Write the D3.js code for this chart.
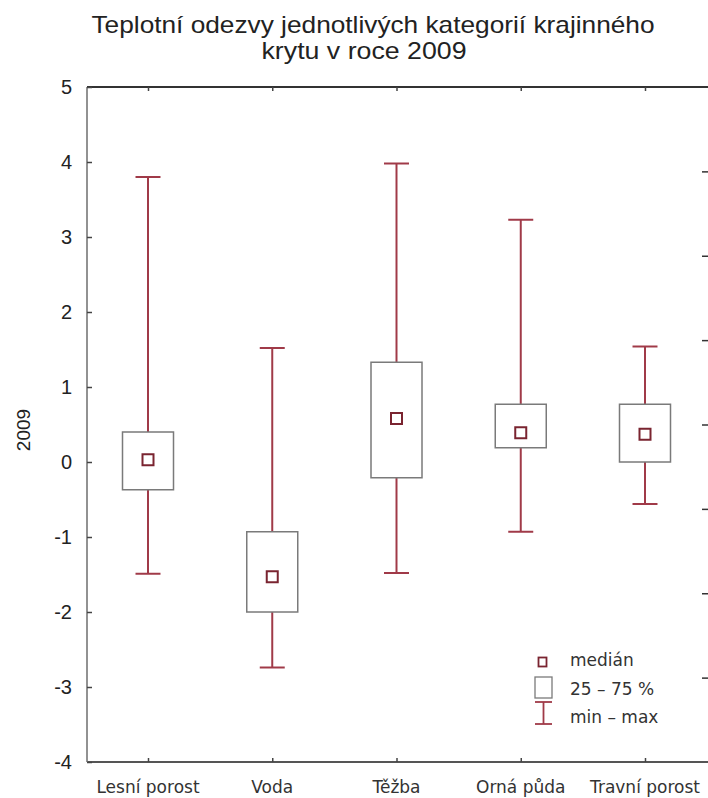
<!DOCTYPE html>
<html><head><meta charset="utf-8">
<script src="https://cdn.jsdelivr.net/npm/d3@7"></script>
<style>html,body{margin:0;padding:0;background:#fff;}svg{display:block;}</style>
</head><body>
<script>
// ---- data ----
const categories = ["Lesní porost", "Voda", "Těžba", "Orná půda", "Travní porost"];
const minVals    = [-1.49, -2.74, -1.48, -0.93, -0.56];
const q1Vals     = [-0.37, -2.00, -0.21,  0.19,  0.00];
const medianVals = [ 0.03, -1.53,  0.58,  0.39,  0.37];
const q3Vals     = [ 0.40, -0.93,  1.33,  0.77,  0.77];
const maxVals    = [ 3.80,  1.52,  3.98,  3.23,  1.54];
const yTicks     = [5, 4, 3, 2, 1, 0, -1, -2, -3, -4];
const rightTicks = [1, 2, 3, 4, 5, 6, 7];
const titleLines = ["Teplotní odezvy jednotlivých kategorií krajinného", "krytu v roce 2009"];
const yLabel = "2009";
const legendItems = ["medián", "25 – 75 %", "min – max"];

(function () {
const W = 708, H = 798;
const mLeft = 87, mRight = 710, mTop = 87, mBottom = 762;
const red = "#a03a48", medRed = "#7a2430", boxGray = "#7a7a7a", axisGray = "#555";

const svg = d3.select("body").append("svg").attr("width", W).attr("height", H);

const y = d3.scaleLinear().domain([-4, 5]).range([mBottom, mTop]);
const x = d3.scalePoint().domain(categories).range([148, 645]);
const yRight = d3.scaleLinear().domain([0, 8]).range([mBottom, mTop]);

const data = categories.map((c, i) => ({c, min: minVals[i], q1: q1Vals[i], med: medianVals[i], q3: q3Vals[i], max: maxVals[i]}));

// title
svg.append("g").selectAll("text").data(titleLines).join("text")
  .attr("x", (d, i) => i === 0 ? 373 : 364)
  .attr("y", (d, i) => 33 + i * 26)
  .attr("text-anchor", "middle")
  .attr("font-family", "Liberation Sans, Arial, sans-serif")
  .attr("font-size", 24)
  .attr("fill", "#222")
  .attr("textLength", (d, i) => i === 0 ? 563 : 205)
  .attr("lengthAdjust", "spacingAndGlyphs")
  .text(d => d);

// frame
svg.append("line").attr("x1", mLeft).attr("x2", mRight).attr("y1", mTop).attr("y2", mTop).attr("stroke", "#333").attr("stroke-width", 2);
svg.append("line").attr("x1", mLeft).attr("x2", mRight).attr("y1", mBottom).attr("y2", mBottom).attr("stroke", axisGray).attr("stroke-width", 2);
svg.append("line").attr("x1", mLeft).attr("x2", mLeft).attr("y1", mTop).attr("y2", mBottom).attr("stroke", "#777").attr("stroke-width", 1.6);

// left axis
const yAxis = d3.axisRight(y).tickValues(yTicks).tickSize(5).tickFormat("");
const ga = svg.append("g").attr("transform", `translate(${mLeft},0)`).call(yAxis);
ga.select(".domain").remove();
ga.selectAll(".tick line").attr("stroke", "#444").attr("stroke-width", 1.5);
svg.append("g").selectAll("text").data(yTicks).join("text")
  .attr("x", 72).attr("y", d => y(d)).attr("dy", "0.36em")
  .attr("text-anchor", "end")
  .attr("font-family", "Liberation Sans, Arial, sans-serif")
  .attr("font-size", 20).attr("fill", "#222")
  .text(d => d);

// right ticks
const rAxis = d3.axisLeft(yRight).tickValues(rightTicks).tickSize(6).tickFormat("");
const gr = svg.append("g").attr("transform", `translate(708,0)`).call(rAxis);
gr.select(".domain").remove();
gr.selectAll(".tick line").attr("stroke", "#333").attr("stroke-width", 1.5);

// top & bottom ticks
const xb = d3.axisTop(x).tickSize(4).tickFormat("");
const gb = svg.append("g").attr("transform", `translate(0,${mBottom})`).call(xb);
gb.select(".domain").remove();
gb.selectAll(".tick line").attr("stroke", "#444").attr("stroke-width", 1.5);
const xt = d3.axisBottom(x).tickSize(4).tickFormat("");
const gt = svg.append("g").attr("transform", `translate(0,${mTop})`).call(xt);
gt.select(".domain").remove();
gt.selectAll(".tick line").attr("stroke", "#444").attr("stroke-width", 1.5);

// category labels
svg.append("g").selectAll("text").data(categories).join("text")
  .attr("x", d => x(d)).attr("y", 793)
  .attr("text-anchor", "middle")
  .attr("font-family", "DejaVu Sans, sans-serif")
  .attr("font-size", 17).attr("fill", "#333")
  .text(d => d);

// y label
svg.append("text")
  .attr("transform", "translate(30,430) rotate(-90)")
  .attr("text-anchor", "middle")
  .attr("font-family", "Liberation Sans, Arial, sans-serif")
  .attr("font-size", 19).attr("fill", "#222")
  .text(yLabel);

// boxes
const boxW = 51, capW = 25, medS = 11;
const g = svg.append("g").selectAll("g").data(data).join("g");
g.append("line").attr("x1", d => x(d.c)).attr("x2", d => x(d.c))
  .attr("y1", d => y(d.max)).attr("y2", d => y(d.q3)).attr("stroke", red).attr("stroke-width", 2);
g.append("line").attr("x1", d => x(d.c)).attr("x2", d => x(d.c))
  .attr("y1", d => y(d.q1)).attr("y2", d => y(d.min)).attr("stroke", red).attr("stroke-width", 2);
g.append("line").attr("x1", d => x(d.c) - capW / 2).attr("x2", d => x(d.c) + capW / 2)
  .attr("y1", d => y(d.max)).attr("y2", d => y(d.max)).attr("stroke", red).attr("stroke-width", 2);
g.append("line").attr("x1", d => x(d.c) - capW / 2).attr("x2", d => x(d.c) + capW / 2)
  .attr("y1", d => y(d.min)).attr("y2", d => y(d.min)).attr("stroke", red).attr("stroke-width", 2);
g.append("rect").attr("x", d => x(d.c) - boxW / 2).attr("width", boxW)
  .attr("y", d => y(d.q3)).attr("height", d => y(d.q1) - y(d.q3))
  .attr("fill", "#fff").attr("stroke", boxGray).attr("stroke-width", 1.5);
g.append("rect").attr("x", d => x(d.c) - medS / 2).attr("width", medS)
  .attr("y", d => y(d.med) - medS / 2).attr("height", medS)
  .attr("fill", "#fff").attr("stroke", medRed).attr("stroke-width", 2);

// legend
const lg = svg.append("g");
lg.append("rect").attr("x", 538.5).attr("y", 657.5).attr("width", 8).attr("height", 9)
  .attr("fill", "#fff").attr("stroke", medRed).attr("stroke-width", 1.8);
lg.append("rect").attr("x", 535).attr("y", 677).attr("width", 17).attr("height", 21)
  .attr("fill", "#fff").attr("stroke", boxGray).attr("stroke-width", 1.3);
lg.append("line").attr("x1", 535).attr("x2", 552).attr("y1", 702).attr("y2", 702).attr("stroke", red).attr("stroke-width", 1.8);
lg.append("line").attr("x1", 535).attr("x2", 552).attr("y1", 724).attr("y2", 724).attr("stroke", red).attr("stroke-width", 1.8);
lg.append("line").attr("x1", 543.5).attr("x2", 543.5).attr("y1", 702).attr("y2", 724).attr("stroke", red).attr("stroke-width", 1.8);
lg.selectAll("text").data(legendItems).join("text")
  .attr("x", 570).attr("y", (d, i) => [660, 689, 717][i]).attr("dy", "0.36em")
  .attr("font-family", "DejaVu Sans, sans-serif")
  .attr("font-size", 17).attr("fill", "#333")
  .text(d => d);
})();
</script>
</body></html>
